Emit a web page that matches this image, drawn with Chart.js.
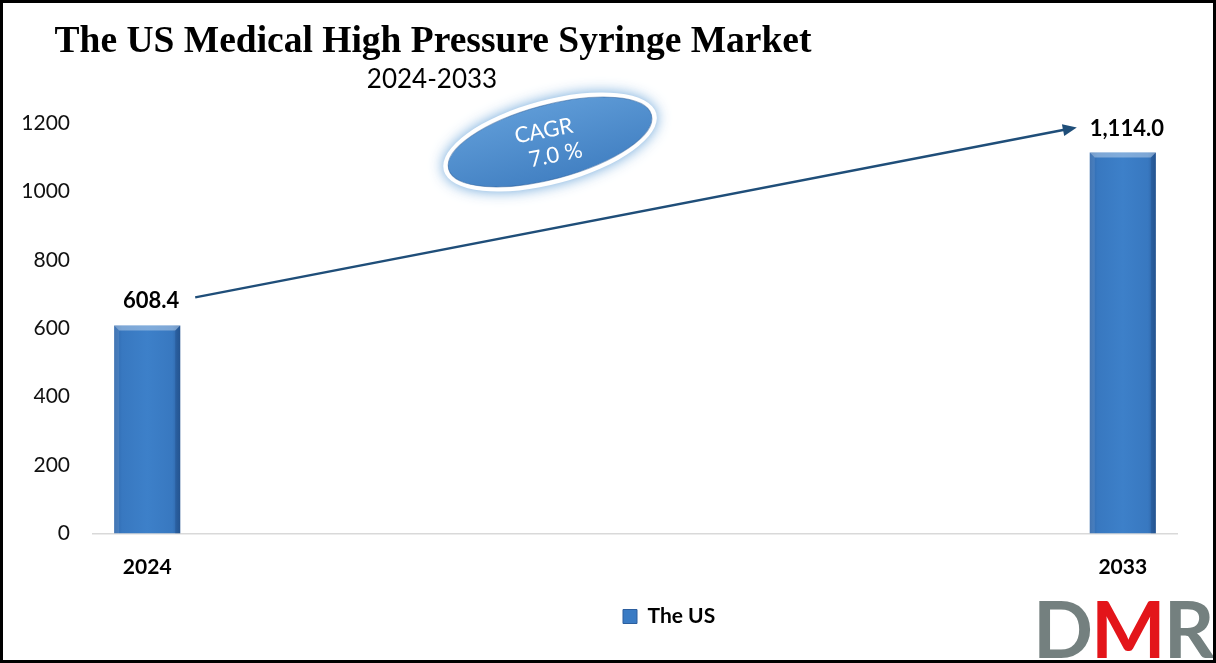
<!DOCTYPE html>
<html>
<head>
<meta charset="utf-8">
<title>The US Medical High Pressure Syringe Market</title>
<script src="https://cdn.jsdelivr.net/npm/chart.js@4.4.1/dist/chart.umd.min.js"></script>
<style>
  html, body { margin: 0; padding: 0; background: #fff; }
  #wrap { position: relative; width: 1216px; height: 663px; overflow: hidden; background: #fff; }
  #chart { position: absolute; left: 0; top: 0; }
  .txt { position: absolute; white-space: nowrap; line-height: 1; color: #000; }
  #title { left: 0; width: 866px; text-align: center; top: 21px;
           font-family: "Liberation Serif", "Times New Roman", serif; font-weight: bold; font-size: 37.5px; }
  #subtitle { left: 0; width: 864px; text-align: center; top: 65px;
              font-family: Lato, "Open Sans", sans-serif; font-size: 26px; }
  #logo { left: 1033px; top: 588px; font-family: Lato, sans-serif; font-weight: bold; font-size: 79px; letter-spacing: -2px; }
  #logo .g { color: #74807f; }
  #logo .r { color: #e3151a; }
  #frame { position: absolute; left: 0; top: 0; width: 1216px; height: 663px; border: 3px solid #000;
           box-sizing: border-box; pointer-events: none; }
</style>
</head>
<body>
<div id="wrap">
  <canvas id="chart" width="1216" height="663"></canvas>
  <div id="title" class="txt">The US Medical High Pressure Syringe Market</div>
  <div id="subtitle" class="txt">2024-2033</div>
  <div id="logo" class="txt"><span class="g">D</span><span class="r">M</span><span class="g">R</span></div>
  <div id="frame"></div>
</div>
<script>
// chart data
const categories = ['2024', '2025', '2026', '2027', '2028', '2029', '2030', '2031', '2032', '2033'];
const usMarket = [608.4, null, null, null, null, null, null, null, null, 1114.0];
const shownYears = ['2024', '2033'];
const yTicks = [0, 200, 400, 600, 800, 1000, 1200];
const seriesName = 'The US';
const cagrText = ['CAGR', '7.0 %'];

const FONT = 'Lato, "Open Sans", sans-serif';
const barBlue = '#3a7bc4';
const arrowBlue = '#1f4e79';
const BAR_PCT = 0.61;

// horizontal shading across each bar
function barFill(c) {
  const chart = c.chart;
  const xs = chart.scales.x;
  if (!xs || !chart.chartArea) return barBlue;
  const cx = xs.getPixelForValue(c.dataIndex);
  const half = xs.width / categories.length * BAR_PCT / 2;
  const g = chart.ctx.createLinearGradient(cx - half, 0, cx + half, 0);
  g.addColorStop(0, '#2d65aa');
  g.addColorStop(0.12, '#3878c0');
  g.addColorStop(0.5, '#3d80c9');
  g.addColorStop(0.88, '#3878c0');
  g.addColorStop(1, '#2a5f9f');
  return g;
}

function fmt(v) {
  return v.toLocaleString('en-US', { minimumFractionDigits: 1, maximumFractionDigits: 1 });
}

function filledBars(chart) {
  return chart.getDatasetMeta(0).data.filter((b, i) => usMarket[i] != null);
}

// light top edge and darker right edge on the bars
const bevel = {
  id: 'bevel',
  afterDatasetsDraw(chart) {
    const g = chart.ctx;
    filledBars(chart).forEach(bar => {
      const { x, y, width, base } = bar.getProps(['x', 'y', 'width', 'base'], true);
      const l = x - width / 2, r = x + width / 2, d = 5;
      g.save();
      g.fillStyle = 'rgba(255,255,255,0.35)';
      g.beginPath();
      g.moveTo(l, y); g.lineTo(r, y); g.lineTo(r - d, y + d); g.lineTo(l + d, y + d);
      g.closePath(); g.fill();
      g.fillStyle = 'rgba(255,255,255,0.10)';
      g.beginPath();
      g.moveTo(l, y); g.lineTo(l + d, y + d); g.lineTo(l + d, base); g.lineTo(l, base);
      g.closePath(); g.fill();
      g.fillStyle = 'rgba(0,20,60,0.15)';
      g.beginPath();
      g.moveTo(r, y); g.lineTo(r - d, y + d); g.lineTo(r - d, base); g.lineTo(r, base);
      g.closePath(); g.fill();
      g.restore();
    });
  }
};

// growth arrow from first value label to last
const growthArrow = {
  id: 'growthArrow',
  afterDatasetsDraw(chart) {
    const bars = filledBars(chart);
    if (bars.length < 2) return;
    const a = bars[0], b = bars[bars.length - 1];
    const x1 = a.x + 48, y1 = a.y - 28;
    const x2 = b.x - 46, y2 = b.y - 25;
    const ang = Math.atan2(y2 - y1, x2 - x1);
    const g = chart.ctx;
    g.save();
    g.strokeStyle = arrowBlue;
    g.fillStyle = arrowBlue;
    g.lineWidth = 2.5;
    g.beginPath();
    g.moveTo(x1, y1);
    g.lineTo(x2 - 10 * Math.cos(ang), y2 - 10 * Math.sin(ang));
    g.stroke();
    g.translate(x2, y2);
    g.rotate(ang);
    g.beginPath();
    g.moveTo(0, 0); g.lineTo(-14, -6); g.lineTo(-14, 6);
    g.closePath(); g.fill();
    g.restore();
  }
};

// value labels above bars
const valueLabels = {
  id: 'valueLabels',
  afterDatasetsDraw(chart) {
    const g = chart.ctx;
    g.save();
    g.font = 'bold 22px ' + FONT;
    g.fillStyle = '#000';
    g.textAlign = 'center';
    g.textBaseline = 'middle';
    chart.getDatasetMeta(0).data.forEach((bar, i) => {
      if (usMarket[i] == null) return;
      g.fillText(fmt(usMarket[i]), bar.x + 4, bar.y - 24);
    });
    g.restore();
  }
};

// CAGR badge
const cagrBadge = {
  id: 'cagrBadge',
  afterDraw(chart) {
    const { left, top, width } = chart.chartArea;
    const cx = left + width * 0.4216, cy = top + 19;
    const g = chart.ctx;
    g.save();
    g.translate(cx, cy);
    g.save();
    g.rotate(-15 * Math.PI / 180);
    g.shadowColor = 'rgba(91,155,213,0.9)';
    g.shadowBlur = 14;
    g.fillStyle = '#fff';
    g.beginPath(); g.ellipse(0, 0, 110, 42, 0, 0, Math.PI * 2); g.fill();
    g.shadowColor = 'transparent';
    const fill = g.createLinearGradient(0, -37, 0, 37);
    fill.addColorStop(0, '#5d9ad6');
    fill.addColorStop(1, '#4381c3');
    g.fillStyle = fill;
    g.beginPath(); g.ellipse(0, 0, 105, 37, 0, 0, Math.PI * 2); g.fill();
    g.strokeStyle = 'rgba(40,90,150,0.5)';
    g.lineWidth = 1;
    g.stroke();
    g.restore();
    g.rotate(-11 * Math.PI / 180);
    g.fillStyle = '#fff';
    g.font = '22px ' + FONT;
    g.textAlign = 'center';
    g.textBaseline = 'middle';
    g.fillText(cagrText[0], -4, -12);
    g.fillText(cagrText[1], 3, 14);
    g.restore();
  }
};

// put the legend under the right half, as in the source picture
const legendPlace = {
  id: 'legendPlace',
  afterLayout(chart) {
    if (chart.legend) chart.legend.left = 613;
  }
};

new Chart(document.getElementById('chart'), {
  type: 'bar',
  data: {
    labels: categories,
    datasets: [{
      label: seriesName,
      data: usMarket,
      backgroundColor: barFill,
      borderWidth: 0,
      categoryPercentage: 1,
      barPercentage: BAR_PCT
    }]
  },
  options: {
    responsive: false,
    animation: false,
    layout: { padding: { top: 123, right: 39, bottom: 26, left: 0 } },
    scales: {
      x: {
        grid: { display: false, drawTicks: false },
        border: { display: true, color: '#d9d9d9', width: 1.5 },
        ticks: {
          autoSkip: false,
          maxRotation: 0,
          padding: 21,
          color: '#000',
          font: { family: FONT, size: 21, weight: 'bold' },
          callback(v, i) {
            const lab = categories[i];
            return shownYears.includes(lab) ? lab : '';
          }
        },
        afterFit(s) { s.height = 62.5; }
      },
      y: {
        min: 0,
        max: 1200,
        grid: { display: false, drawTicks: false },
        border: { display: false },
        ticks: {
          padding: 23,
          color: '#111',
          font: { family: FONT, size: 21 },
          callback: v => String(v)
        },
        afterBuildTicks(s) { s.ticks = yTicks.map(v => ({ value: v })); },
        afterFit(s) { s.width = 93; }
      }
    },
    plugins: {
      title: { display: false },
      tooltip: { enabled: false },
      legend: {
        position: 'bottom',
        align: 'start',
        labels: {
          boxWidth: 14,
          boxHeight: 14,
          padding: 10,
          color: '#000',
          font: { family: FONT, size: 21, weight: 'bold' },
          generateLabels: () => [{
            text: seriesName, fillStyle: barBlue, strokeStyle: '#2c5f9e',
            lineWidth: 1, hidden: false, datasetIndex: 0
          }]
        }
      }
    }
  },
  plugins: [bevel, growthArrow, valueLabels, cagrBadge, legendPlace]
});
</script>
</body>
</html>
